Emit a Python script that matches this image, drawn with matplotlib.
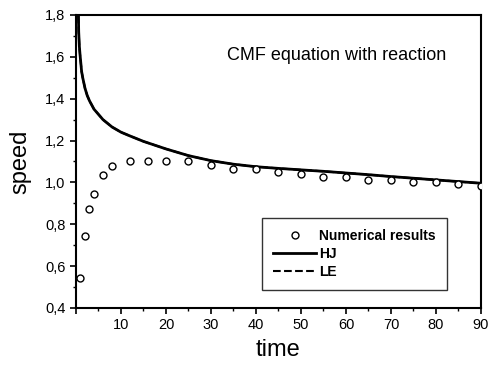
import numpy as np
import matplotlib
matplotlib.use('Agg')
import matplotlib.pyplot as plt
from matplotlib.ticker import MultipleLocator, FuncFormatter

plt.rcParams['font.family'] = ['Liberation Sans', 'DejaVu Sans']

# numerical results (open circles)
t_num = [1, 2, 3, 4, 6, 8, 12, 16, 20, 25, 30, 35, 40, 45, 50, 55, 60, 65, 70, 75, 80, 85, 90]
v_num = [0.544, 0.745, 0.875, 0.945, 1.036, 1.077, 1.10, 1.10, 1.10, 1.10, 1.081, 1.065, 1.063,
         1.05, 1.038, 1.027, 1.024, 1.013, 1.013, 1.001, 1.0, 0.993, 0.985]

# HJ / LE curves (they coincide)
t_hj = [0.5, 0.6, 0.75, 0.9, 1.25, 1.5, 2, 2.5, 3, 4, 5, 6, 8, 10, 12, 15, 20, 25, 30, 35, 40,
        45, 50, 55, 60, 65, 70, 75, 80, 85, 90]
v_hj = [1.85, 1.72, 1.65, 1.61, 1.53, 1.50, 1.45, 1.415, 1.39, 1.35, 1.325, 1.30, 1.265, 1.24,
        1.222, 1.196, 1.160, 1.128, 1.104, 1.087, 1.075, 1.067, 1.06, 1.053, 1.045, 1.037,
        1.028, 1.02, 1.012, 1.004, 0.996]
v_le = v_hj

fig = plt.figure(figsize=(4.89, 3.70), dpi=100)
ax = fig.add_axes([0.1554, 0.1676, 0.8282, 0.7919])

ax.plot(t_num, v_num, 'o', ms=5, mfc='white', mec='black', mew=1.0, label='Numerical results',
        zorder=3)
ax.plot(t_hj, v_hj, '-', color='black', lw=2.0, label='HJ')
ax.plot(t_hj, v_le, '--', color='black', lw=1.5, label='LE')

ax.set_xlim(0, 90)
ax.set_ylim(0.4, 1.8)
ax.xaxis.set_major_locator(MultipleLocator(10))
ax.xaxis.set_minor_locator(MultipleLocator(5))
ax.yaxis.set_major_locator(MultipleLocator(0.2))
ax.yaxis.set_minor_locator(MultipleLocator(0.1))
ax.xaxis.set_major_formatter(FuncFormatter(lambda v, p: '' if v == 0 else '%d' % v))
ax.yaxis.set_major_formatter(FuncFormatter(lambda v, p: ('%.1f' % v).replace('.', ',')))
ax.tick_params(which='major', direction='out', length=4, width=1.2, labelsize=10.5,
               top=False, right=False)
ax.tick_params(which='minor', direction='out', length=2.5, width=1.0, top=False, right=False)
for s in ax.spines.values():
    s.set_linewidth(1.5)

ax.set_xlabel('time', fontsize=17, labelpad=5)
ax.set_ylabel('speed', fontsize=17, labelpad=10)

ax.text(0.644, 0.863, 'CMF equation with reaction', transform=ax.transAxes,
        ha='center', va='center', fontsize=13)

leg = ax.legend(loc='lower right', bbox_to_anchor=(0.915, 0.06), fontsize=10,
                frameon=True, fancybox=False, edgecolor='black', handlelength=3.1,
                handletextpad=0.2, labelspacing=0.3, borderpad=0.8, borderaxespad=0)
leg.get_frame().set_linewidth(1.0)
for txt in leg.get_texts():
    txt.set_fontweight('bold')

fig.savefig('out.png', dpi=100)
